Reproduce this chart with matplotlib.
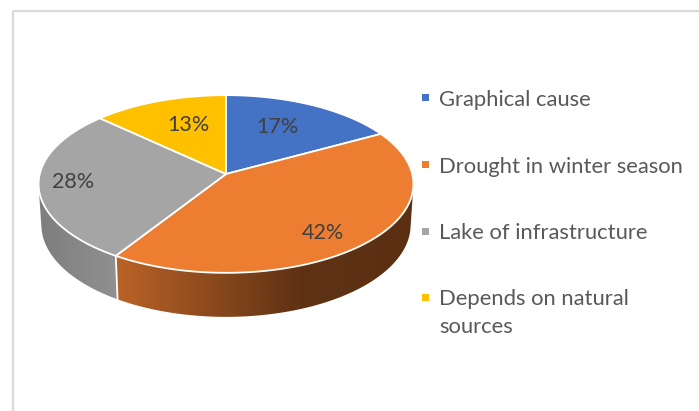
import numpy as np
import matplotlib.pyplot as plt
from matplotlib.patches import Polygon
from matplotlib.colors import to_rgb

plt.rcParams['font.family'] = ['Lato', 'DejaVu Sans']

# causes and their share (%)
labels = ['Graphical cause', 'Drought in winter season', 'Lake of infrastructure',
          'Depends on natural\nsources']
shares = [17, 42, 28, 13]
colors = ['#4472C4', '#ED7D31', '#A5A5A5', '#FFC000']

# label placement on the top face: radius fraction and angle nudge (deg)
label_r = [0.64, 0.79, 0.82, 0.63]
label_dang = [-3.5, 5.4, 0.8, 3.3]

# camera for the tilted pie (pixel space)
cx, cy = 226, 174
K = 1462.0
D = 7.85
elev = np.radians(28.1)
s_e, c_e = np.sin(elev), np.cos(elev)
h = 0.251


def project(X, Y, Z):
    depth = D + Y * c_e - Z * s_e
    u = X / depth * K
    w = (Y * s_e + Z * c_e) / depth * K
    return cx + u, cy - w


def rim(theta_deg, z=0.0, r=1.0):
    t = np.radians(theta_deg)
    return project(r * np.sin(t), r * np.cos(t), z)


def wall_light(x, left_edge):
    # light falls from the front-left; the wall darkens towards the right
    if left_edge < 60:
        return np.interp(x, [38, 112], [0.76, 0.87])
    return np.interp(x, [116, 300, 420], [0.79, 0.40, 0.38])


fig = plt.figure(figsize=(6.99, 4.11), dpi=100)
ax = fig.add_axes([0, 0, 1, 1])
ax.set_xlim(0, 699)
ax.set_ylim(411, 0)
ax.axis('off')

# chart area border
ax.plot([12.5, 699], [11, 11], color='#d9d9d9', lw=1.6, solid_capstyle='butt')
ax.plot([12.5, 12.5], [11, 411], color='#d9d9d9', lw=1.6, solid_capstyle='butt')

bounds = np.concatenate([[0], np.cumsum(shares)]) / sum(shares) * 360
vis_lo = np.degrees(np.arccos(-1 / (D * c_e)))
vis_hi = 360 - vis_lo

# side walls (front part only), shaded with a gradient clipped to the wall
for i, col in enumerate(colors):
    a0, a1 = max(bounds[i], vis_lo), min(bounds[i + 1], vis_hi)
    if a1 <= a0:
        continue
    base = np.array(to_rgb(col))
    th = np.linspace(a0, a1, 300)
    xt, yt = rim(th)
    xb, yb = rim(th[::-1], -h)
    wall = Polygon(np.column_stack([np.r_[xt, xb], np.r_[yt, yb]]), closed=True,
                   facecolor='none', edgecolor='none')
    ax.add_patch(wall)
    x_lo, x_hi = min(xt.min(), xb.min()), max(xt.max(), xb.max())
    y_lo, y_hi = min(yt.min(), yb.min()), max(yt.max(), yb.max())
    cols_x = np.linspace(x_lo, x_hi, 400)
    strip = np.clip(base[None, :] * wall_light(cols_x, x_lo)[:, None], 0, 1)
    img = np.repeat(strip[None, :, :], 2, axis=0)
    im = ax.imshow(img, extent=[x_lo - 1, x_hi + 1, y_hi + 1, y_lo - 1],
                   aspect='auto', interpolation='bilinear', zorder=1)
    im.set_clip_path(wall)

# white seams on the side where slices meet
for b in bounds[1:-1]:
    if vis_lo < b < vis_hi:
        xt, yt = rim(b)
        xb, yb = rim(b, -h)
        ax.plot([xt, xb], [yt, yb], color='white', lw=1.3, zorder=2)

# top face wedges
for i, col in enumerate(colors):
    th = np.linspace(bounds[i], bounds[i + 1], 200)
    xs, ys = rim(th)
    pts = np.vstack([[cx, cy], np.column_stack([xs, ys])])
    ax.add_patch(Polygon(pts, closed=True, facecolor=col, edgecolor='white',
                         lw=1.3, joinstyle='round', zorder=3))

# percentage labels
for i, v in enumerate(shares):
    mid = (bounds[i] + bounds[i + 1]) / 2 + label_dang[i]
    lx, ly = rim(mid, 0.0, label_r[i])
    ax.text(lx, ly, f'{v}%', ha='center', va='center', fontsize=15.5,
            color='#404040', zorder=4)

# legend
row_y = [98, 165, 231, 297]
for i, (lab, col) in enumerate(zip(labels, colors)):
    ax.add_patch(Polygon([[421.5, row_y[i] - 3.5], [428.5, row_y[i] - 3.5],
                          [428.5, row_y[i] + 3.5], [421.5, row_y[i] + 3.5]],
                         closed=True, facecolor=col, edgecolor='none'))
    for j, line in enumerate(lab.split('\n')):
        ax.text(439, row_y[i] + j * 28, line, ha='left', va='center_baseline',
                fontsize=15.8, color='#595959')

plt.savefig('out.png', dpi=100)
